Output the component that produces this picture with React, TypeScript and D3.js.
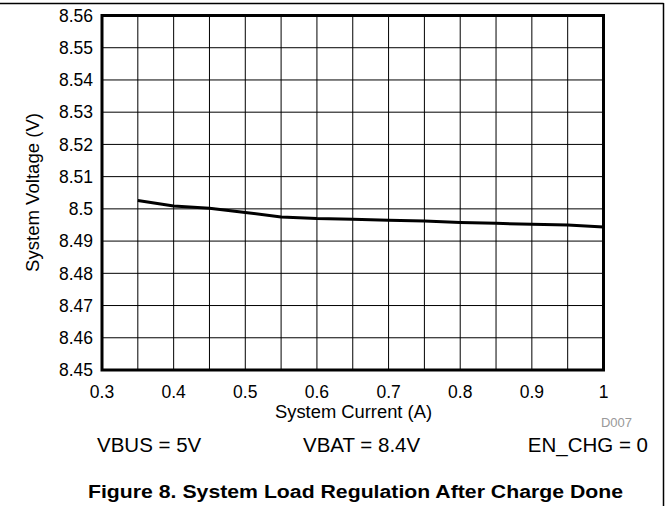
import React from 'react'
import * as d3 from 'd3'

// system current (A) and system voltage (V)
const current = [0.35, 0.4, 0.45, 0.5, 0.55, 0.6, 0.65, 0.7, 0.75, 0.8, 0.85, 0.9, 0.95, 1.0]
const voltage = [8.5026, 8.5009, 8.5002, 8.4989, 8.4975, 8.4970, 8.4968, 8.4965, 8.4962, 8.4958, 8.4955, 8.4952, 8.4950, 8.4944]

const xTicks = [0.3, 0.4, 0.5, 0.6, 0.7, 0.8, 0.9, 1]
const xGrid = d3.range(0, 15).map(i => 0.3 + i * 0.05)
const yTicks = d3.range(0, 12).map(i => 8.45 + i * 0.01)

const W = 669
const H = 506
const font = 'Arial, "Liberation Sans", Helvetica, sans-serif'

const App: React.FC = () => {
  const left = 102
  const right = 603.5
  const top = 15.5
  const bottom = 370

  const x = d3.scaleLinear().domain([0.3, 1]).range([left, right])
  const y = d3.scaleLinear().domain([8.45, 8.56]).range([bottom, top])

  const line = d3.line<number>()
    .x((_, i) => x(current[i]))
    .y(d => y(d))

  return (
    <svg width={W} height={H} style={{ position: 'absolute', left: 0, top: 0, background: '#fff' }} fontFamily={font}>
      {/* outer frame */}
      <line x1={0} x2={663.5} y1={3.5} y2={3.5} stroke="#000" strokeWidth={1.5} />
      <line x1={663.5} x2={663.5} y1={3} y2={H} stroke="#000" strokeWidth={1.5} />

      {/* grid */}
      {xGrid.map((v, i) => (
        <line key={'gx' + i} x1={x(v)} x2={x(v)} y1={top} y2={bottom} stroke="#000" strokeWidth={1} />
      ))}
      {yTicks.map((v, i) => (
        <line key={'gy' + i} x1={left} x2={right} y1={y(v)} y2={y(v)} stroke="#000" strokeWidth={1} />
      ))}

      {/* plot border */}
      <rect x={left} y={top} width={right - left} height={bottom - top} fill="none" stroke="#000" strokeWidth={3} />

      {/* data */}
      <path d={line(voltage) || ''} fill="none" stroke="#000" strokeWidth={3} strokeLinejoin="round" />

      {/* y tick labels */}
      {yTicks.map((v, i) => (
        <text key={'ty' + i} x={93} y={y(v)} dy="0.36em" textAnchor="end" fontSize={17.5} fill="#000">
          {d3.format('~g')(+v.toFixed(2))}
        </text>
      ))}
      {/* x tick labels */}
      {xTicks.map((v, i) => (
        <text key={'tx' + i} x={x(v)} y={398} textAnchor="middle" fontSize={17.5} fill="#000">
          {d3.format('~g')(v)}
        </text>
      ))}

      <text x={353.5} y={418} textAnchor="middle" fontSize={17.5} fill="#000"
        textLength={157} lengthAdjust="spacingAndGlyphs">System Current (A)</text>
      <text transform="translate(39,192.5) rotate(-90)" textAnchor="middle" fontSize={17.5} fill="#000"
        textLength={159} lengthAdjust="spacingAndGlyphs">
        System Voltage (V)
      </text>

      <text x={632} y={427} textAnchor="end" fontSize={13} fill="#999">D007</text>

      <text x={97} y={452} fontSize={20.5} fill="#000">VBUS = 5V</text>
      <text x={303} y={452} fontSize={20.5} fill="#000">VBAT = 8.4V</text>
      <text x={648} y={452} textAnchor="end" fontSize={20.5} fill="#000">EN_CHG = 0</text>

      <text x={355.5} y={497.5} textAnchor="middle" fontSize={18} fontWeight="bold" fill="#000"
        textLength={535} lengthAdjust="spacingAndGlyphs">
        Figure 8. System Load Regulation After Charge Done
      </text>
    </svg>
  )
}

export default App
